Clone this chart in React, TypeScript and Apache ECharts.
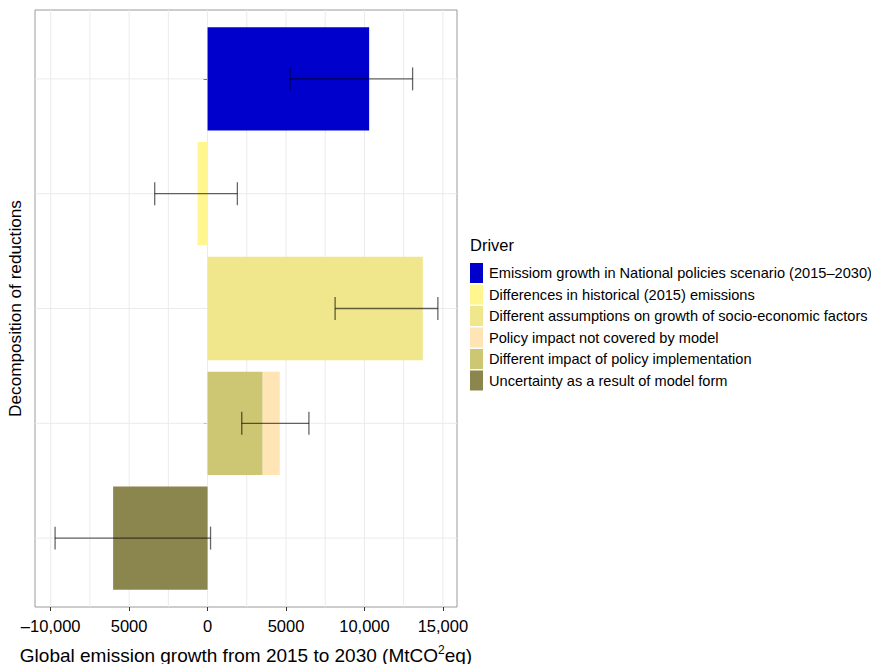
import React, { useEffect, useRef } from "react";
import * as echarts from "echarts";

// Data
const drivers = [
  "Emissiom growth in National policies scenario (2015–2030)",
  "Differences in historical (2015) emissions",
  "Different assumptions on growth of socio-economic factors",
  "Policy impact not covered by model",
  "Different impact of policy implementation",
  "Uncertainty as a result of model form",
];
const driverColors = ["#0000CD", "#FFF68F", "#F0E68C", "#FFE4B5", "#CDC673", "#8B864E"];
// row (1 = top) of each driver's bar and its contribution
const driverRow = [1, 2, 3, 4, 4, 5];
const driverValue = [10300, -640, 13720, 1100, 3500, -6020];
// stacking order within a row (lower = closer to zero)
const driverStack = [0, 0, 0, 1, 0, 0];

const errRow = [1, 2, 3, 4, 5];
const errLow = [5250, -3370, 8130, 2180, -9720];
const errHigh = [13070, 1900, 14680, 6460, 190];

const xTicks = [-10000, -5000, 0, 5000, 10000, 15000];
const xTickLabels = ["–10,000", "5000", "0", "5000", "10,000", "15,000"];
const xGrid = [-10000, -7500, -5000, -2500, 0, 2500, 5000, 7500, 10000, 12500, 15000];
const rows = [1, 2, 3, 4, 5];

const FONT = "'Liberation Sans', Arial, Helvetica, sans-serif";

function computeBars() {
  const res: number[][] = [];
  drivers.forEach((_, i) => {
    let base = 0;
    drivers.forEach((__, j) => {
      if (
        j !== i &&
        driverRow[j] === driverRow[i] &&
        driverStack[j] < driverStack[i] &&
        Math.sign(driverValue[j]) === Math.sign(driverValue[i])
      ) {
        base += driverValue[j];
      }
    });
    res.push([driverRow[i], base, base + driverValue[i]]);
  });
  return res;
}

export default function App() {
  const ref = useRef<HTMLDivElement>(null);
  useEffect(() => {
    if (!ref.current) return;
    const chart = echarts.init(ref.current, null, { renderer: "svg" });
    const bars = computeBars();
    const barWidth = 0.9;

    const barSeries = drivers.map((name, i) => ({
      name,
      type: "custom",
      z: 3,
      itemStyle: { color: driverColors[i] },
      encode: { x: [1, 2], y: 0 },
      data: [bars[i]],
      renderItem: (params: any, api: any) => {
        const row = api.value(0);
        const s = api.value(1);
        const e = api.value(2);
        const p1 = api.coord([s, row]);
        const p2 = api.coord([e, row]);
        const h = api.size([0, barWidth])[1];
        return {
          type: "rect",
          shape: {
            x: Math.min(p1[0], p2[0]),
            y: p1[1] - h / 2,
            width: Math.abs(p2[0] - p1[0]),
            height: h,
          },
          style: { fill: driverColors[i] },
        };
      },
    }));

    const option: any = {
      animation: false,
      backgroundColor: "#fff",
      textStyle: { fontFamily: FONT },
      title: {
        text: "Driver",
        left: 470,
        top: 236,
        padding: 0,
        textStyle: { fontFamily: FONT, fontSize: 16.5, fontWeight: "normal", color: "#000" },
      },
      legend: {
        orient: "vertical",
        left: 470,
        top: 263,
        padding: 0,
        itemWidth: 13,
        itemHeight: 20,
        itemGap: 1.5,
        icon: "rect",
        selectedMode: false,
        data: drivers,
        textStyle: { fontFamily: FONT, fontSize: 14.6, color: "#000", padding: [0, 0, 0, 1] },
      },
      grid: {
        left: 35,
        right: 414,
        top: 10,
        bottom: 57,
        show: true,
        borderColor: "#9a9a9a",
        borderWidth: 1,
        backgroundColor: "#fff",
        containLabel: false,
        outerBoundsMode: "none",
      },
      xAxis: {
        type: "value",
        min: -11000,
        max: 15900,
        splitLine: { show: false },
        axisLine: { show: false },
        axisTick: {
          show: true,
          length: 4,
          customValues: xTicks,
          lineStyle: { color: "#333" },
        },
        axisLabel: {
          customValues: xTicks,
          margin: 10,
          fontSize: 16.5,
          color: "#000",
          fontFamily: FONT,
          formatter: (v: number) => {
            const idx = xTicks.indexOf(v);
            return idx >= 0 ? xTickLabels[idx] : "";
          },
        },
        name: "Global emission growth from 2015 to 2030 (MtCO{sup|2}eq)",
        nameLocation: "middle",
        nameGap: 37,
        nameTextStyle: {
          fontSize: 19,
          color: "#000",
          fontFamily: FONT,
          lineHeight: 22,
          rich: {
            sup: { fontSize: 12, verticalAlign: "top", lineHeight: 14, color: "#000", fontFamily: FONT },
          },
        },
      },
      yAxis: {
        type: "value",
        inverse: true,
        min: 0.4,
        max: 5.6,
        splitLine: { show: false },
        axisLine: { show: false },
        axisTick: {
          show: true,
          length: 4,
          customValues: rows,
          lineStyle: { color: "#333" },
        },
        axisLabel: { customValues: rows, formatter: () => "" },
        name: "Decomposition of reductions",
        nameLocation: "middle",
        nameGap: 9,
        nameRotate: 90,
        nameTextStyle: { fontSize: 17.2, color: "#000", fontFamily: FONT },
      },
      series: [
        {
          name: "gridX",
          type: "custom",
          z: 1,
          silent: true,
          encode: { x: 0 },
          data: xGrid.map((v) => [v]),
          renderItem: (params: any, api: any) => {
            const cs = params.coordSys;
            const x = api.coord([api.value(0), 1])[0];
            return {
              type: "line",
              shape: { x1: x, y1: cs.y, x2: x, y2: cs.y + cs.height },
              style: { stroke: "#ebebeb", lineWidth: 1 },
            };
          },
        },
        {
          name: "gridY",
          type: "custom",
          z: 1,
          silent: true,
          encode: { y: 0 },
          data: rows.map((r) => [r]),
          renderItem: (params: any, api: any) => {
            const cs = params.coordSys;
            const y = api.coord([0, api.value(0)])[1];
            return {
              type: "line",
              shape: { x1: cs.x, y1: y, x2: cs.x + cs.width, y2: y },
              style: { stroke: "#ebebeb", lineWidth: 1 },
            };
          },
        },
        ...barSeries,
        {
          name: "errors",
          type: "custom",
          z: 5,
          silent: true,
          encode: { x: [1, 2], y: 0 },
          data: errRow.map((r, i) => [r, errLow[i], errHigh[i]]),
          renderItem: (params: any, api: any) => {
            const row = api.value(0);
            const p1 = api.coord([api.value(1), row]);
            const p2 = api.coord([api.value(2), row]);
            const half = api.size([0, 0.1])[1];
            const st = { stroke: "rgba(0,0,0,0.6)", lineWidth: 1.3 };
            return {
              type: "group",
              children: [
                { type: "line", shape: { x1: p1[0], y1: p1[1], x2: p2[0], y2: p2[1] }, style: st },
                { type: "line", shape: { x1: p1[0], y1: p1[1] - half, x2: p1[0], y2: p1[1] + half }, style: st },
                { type: "line", shape: { x1: p2[0], y1: p2[1] - half, x2: p2[0], y2: p2[1] + half }, style: st },
              ],
            };
          },
        },
      ],
    };
    chart.setOption(option);
    return () => chart.dispose();
  }, []);
  return (
    <div
      ref={ref}
      style={{ position: "absolute", left: 0, top: 0, width: 871, height: 664 }}
    />
  );
}
